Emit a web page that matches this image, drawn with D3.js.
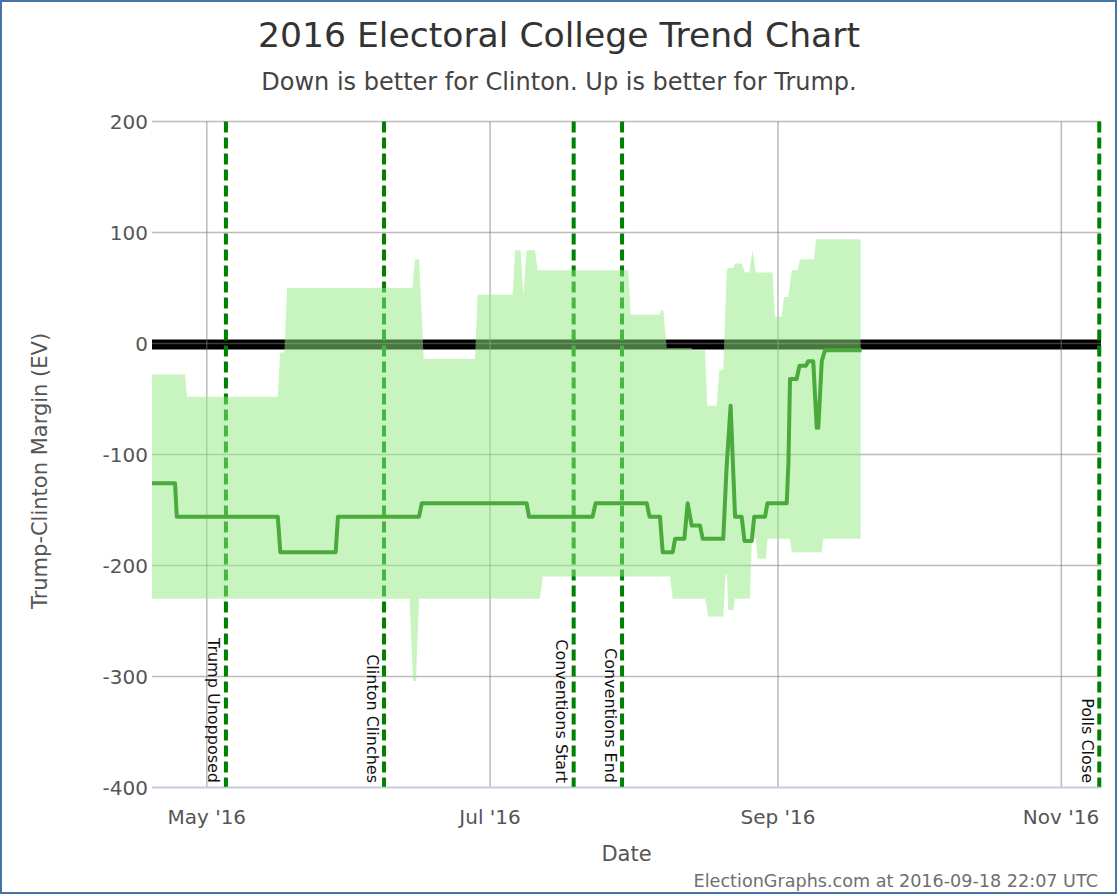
<!DOCTYPE html>
<html><head><meta charset="utf-8">
<script src="https://cdn.jsdelivr.net/npm/d3@7"></script>
<style>
body{margin:0;background:#fff}
svg{display:block}
text{font-family:"DejaVu Sans",Verdana,sans-serif}
</style>
</head><body>
<svg id="chart" width="1120" height="896"></svg>
<script>
// ---------------- DATA ----------------
const titleText = "2016 Electoral College Trend Chart";
const subtitleText = "Down is better for Clinton. Up is better for Trump.";
const footerText = "ElectionGraphs.com at 2016-09-18 22:07 UTC";
const yTitle = "Trump-Clinton Margin (EV)";
const xTitle = "Date";

// expected margin (Trump - Clinton)
const lineDates = ["2016-04-19T05","2016-04-24T04","2016-04-24T13","2016-05-16T07","2016-05-16T20","2016-05-28T18","2016-05-29T06",
  "2016-06-15T17","2016-06-16T07","2016-07-08T21","2016-07-09T09","2016-07-23T02","2016-07-23T17","2016-08-03T18","2016-08-04T08",
  "2016-08-06T14","2016-08-07T04","2016-08-09T08","2016-08-09T20","2016-08-11T20","2016-08-12T13","2016-08-13T10","2016-08-15T05",
  "2016-08-15T19","2016-08-20T05","2016-08-20T22","2016-08-21T19","2016-08-22T18","2016-08-24T04","2016-08-24T19","2016-08-26T08",
  "2016-08-26T21","2016-08-29T05","2016-08-29T17","2016-09-02T21","2016-09-03T06","2016-09-03T14","2016-09-05T00","2016-09-05T15",
  "2016-09-07T00","2016-09-07T12","2016-09-08T14","2016-09-09T08","2016-09-09T16","2016-09-10T10","2016-09-11T03","2016-09-19T00"];
const lineValues = [-126,-126,-156,-156,-188,-188,-156,
  -156,-144,-144,-156,-156,-144,-144,-156,
  -156,-188,-188,-176,-176,-144,-164,-164,
  -176,-176,-112,-56,-156,-156,-178,-178,
  -156,-156,-144,-144,-106,-32,-32,-20,
  -20,-16,-16,-76,-76,-16,-6,-6];

// best case for Trump (upper edge of the band)
const upperDates = ["2016-04-19T05","2016-04-26T08","2016-04-26T18","2016-05-16T07","2016-05-16T19","2016-05-17T17","2016-05-18T07",
  "2016-06-14T07","2016-06-14T20","2016-06-15T17","2016-06-16T17","2016-06-27T18","2016-06-28T08","2016-07-05T21","2016-07-06T09",
  "2016-07-07T14","2016-07-08T04","2016-07-08T21","2016-07-10T16","2016-07-11T06","2016-07-30T18","2016-07-31T07","2016-08-06T11",
  "2016-08-06T22","2016-08-07T07","2016-08-08T01","2016-08-13T10","2016-08-13T14","2016-08-16T07","2016-08-16T18","2016-08-18T19",
  "2016-08-19T09","2016-08-20T05","2016-08-20T23","2016-08-21T06","2016-08-22T09","2016-08-22T18","2016-08-24T04","2016-08-24T21",
  "2016-08-25T19","2016-08-26T13","2016-08-27T05","2016-08-30T20","2016-08-31T08","2016-09-01T19","2016-09-02T07","2016-09-03T05",
  "2016-09-03T23","2016-09-05T06","2016-09-05T18","2016-09-08T18","2016-09-09T04","2016-09-18T19"];
const upperValues = [-28,-28,-48,-48,-8,-8,50,
  50,76,76,-14,-14,44,44,84,
  84,44,84,84,66,66,26,26,
  30,30,-4,-4,-6,-6,-56,-56,
  -24,-24,66,68,68,72,72,64,
  64,84,64,64,24,24,42,42,
  66,66,76,76,94,94];

// best case for Clinton (lower edge of the band)
const lowerDates = ["2016-04-19T05","2016-06-13T16","2016-06-14T10","2016-06-15T01","2016-06-15T17","2016-07-11T18","2016-07-12T08",
  "2016-08-08T18","2016-08-09T08","2016-08-16T07","2016-08-17T00","2016-08-20T05","2016-08-20T17","2016-08-21T00","2016-08-21T07",
  "2016-08-22T09","2016-08-22T18","2016-08-25T23","2016-08-26T09","2016-08-27T06","2016-08-27T14","2016-08-29T10","2016-08-29T18",
  "2016-09-03T14","2016-09-03T23","2016-09-10T10","2016-09-10T18","2016-09-18T19"];
const lowerValues = [-230,-230,-304,-304,-230,-230,-210,
  -210,-230,-230,-246,-246,-208,-208,-240,
  -240,-230,-230,-176,-176,-194,-194,-176,
  -176,-188,-188,-176,-176];

const eventDates = ["2016-05-05T03","2016-06-08T04","2016-07-19T00","2016-07-29T10","2016-11-09T04"];
const eventLabels = ["Trump Unopposed","Clinton Clinches","Conventions Start","Conventions End","Polls Close"];

const yTickValues = [200,100,0,-100,-200,-300,-400];
const yTickLabels = ["200","100","0","-100","-200","-300","-400"];
const xTickDates = ["2016-05-01T00","2016-07-01T00","2016-09-01T00","2016-11-01T00"];
const xTickLabels = ["May '16","Jul '16","Sep '16","Nov '16"];
const xDomain = ["2016-04-19T05","2016-11-09T13"];
const yDomain = [-400,200];

// ---------------- DRAW ----------------
const parse = d3.utcParse("%Y-%m-%dT%H");
const svg = d3.select("#chart");
const L = 152, R = 1101, T = 121.5, B = 787.5;

const x = d3.scaleUtc().domain(xDomain.map(parse)).range([L, R]);
const y = d3.scaleLinear().domain(yDomain).range([B, T]);

const linePts = lineDates.map((d,i)=>({t:parse(d), v:lineValues[i]}));
const upPts = upperDates.map((d,i)=>({t:parse(d), v:upperValues[i]}));
const loPts = lowerDates.map((d,i)=>({t:parse(d), v:lowerValues[i]}));

const gen = d3.line().x(d=>x(d.t)).y(d=>y(d.v));

// black zero line
svg.append("line").attr("x1",L).attr("x2",R).attr("y1",y(0)+1).attr("y2",y(0)+1)
  .attr("stroke","#000").attr("stroke-width",10);

// gridlines
const grid = svg.append("g");
grid.selectAll("line.h").data(yTickValues).join("line")
  .attr("x1",L).attr("x2",R).attr("y1",d=>y(d)).attr("y2",d=>y(d))
  .attr("stroke","#777").attr("stroke-opacity",0.5).attr("stroke-width",1.5);
grid.selectAll("line.v").data(xTickDates).join("line")
  .attr("x1",d=>x(parse(d))).attr("x2",d=>x(parse(d))).attr("y1",T).attr("y2",B)
  .attr("stroke","#777").attr("stroke-opacity",0.5).attr("stroke-width",1.5);

// event lines
svg.append("g").selectAll("line").data(eventDates).join("line")
  .attr("x1",d=>x(parse(d))).attr("x2",d=>x(parse(d))).attr("y1",T).attr("y2",B)
  .attr("stroke","#008000").attr("stroke-width",4).attr("stroke-dasharray","11,5");

// band
const bandPath = gen(upPts) + gen(loPts.slice().reverse()).replace(/^M/,"L") + "Z";
svg.append("path").attr("d",bandPath).attr("fill","rgb(146,234,130)").attr("fill-opacity",0.5);

// main line
svg.append("path").attr("d",gen(linePts)).attr("fill","none")
  .attr("stroke","#4aaa3c").attr("stroke-width",4).attr("stroke-linejoin","round");

// event labels
svg.append("g").selectAll("text").data(eventDates).join("text")
  .attr("transform",d=>`translate(${x(parse(d))-17.5},783) rotate(90)`)
  .attr("text-anchor","end").attr("font-size",16).attr("fill","#111")
  .text((d,i)=>eventLabels[i]);

// baseline
svg.append("line").attr("x1",L).attr("x2",R).attr("y1",B).attr("y2",B)
  .attr("stroke","#bfcde0").attr("stroke-width",1.5);

// y tick labels
svg.append("g").selectAll("text").data(yTickValues).join("text")
  .attr("x",148).attr("y",d=>y(d)).attr("dy","0.36em").attr("text-anchor","end")
  .attr("font-size",20).attr("fill","#555").text((d,i)=>yTickLabels[i]);

// x tick labels
svg.append("g").selectAll("text").data(xTickDates).join("text")
  .attr("x",(d,i)=>Math.min(x(parse(d)), R - 40)).attr("y",824).attr("text-anchor","middle")
  .attr("font-size",20).attr("fill","#555").text((d,i)=>xTickLabels[i]);

// titles
svg.append("text").attr("x",559).attr("y",47).attr("text-anchor","middle")
  .attr("font-size",34.6).attr("fill","#333").text(titleText);
svg.append("text").attr("x",559).attr("y",90).attr("text-anchor","middle")
  .attr("font-size",24).attr("fill","#444").text(subtitleText);
svg.append("text").attr("x",(L+R)/2).attr("y",861).attr("text-anchor","middle")
  .attr("font-size",21).attr("fill","#555").text(xTitle);
svg.append("text").attr("transform","translate(47,471) rotate(-90)").attr("text-anchor","middle")
  .attr("font-size",21).attr("fill","#555").text(yTitle);
svg.append("text").attr("x",1098).attr("y",887).attr("text-anchor","end")
  .attr("font-size",17.6).attr("fill","#6f6f6f").text(footerText);

// border
svg.append("rect").attr("x",1).attr("y",1).attr("width",1115).attr("height",892)
  .attr("fill","none").attr("stroke","#4672a6").attr("stroke-width",2);
</script>
</body></html>
